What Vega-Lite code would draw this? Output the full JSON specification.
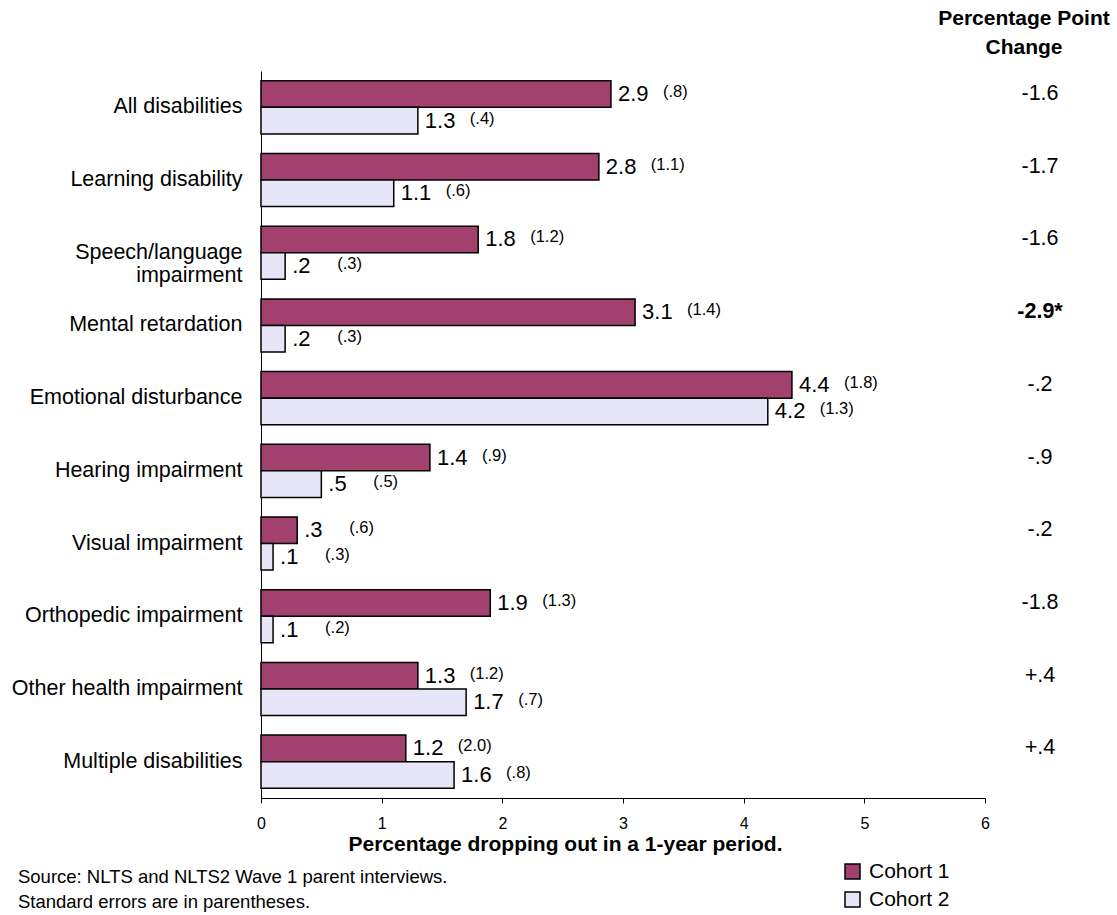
{
  "$schema": "https://vega.github.io/schema/vega-lite/v6.json",
  "autosize": {"type": "none"},
  "padding": {"left": 261, "top": 71, "right": 132, "bottom": 117},
  "width": 724,
  "height": 727,
  "datasets": {
    "bars": [
      {"category": "All disabilities", "cohort": "Cohort 1", "value": 2.9, "label": "2.9", "se": "(.8)"},
      {"category": "All disabilities", "cohort": "Cohort 2", "value": 1.3, "label": "1.3", "se": "(.4)"},
      {"category": "Learning disability", "cohort": "Cohort 1", "value": 2.8, "label": "2.8", "se": "(1.1)"},
      {"category": "Learning disability", "cohort": "Cohort 2", "value": 1.1, "label": "1.1", "se": "(.6)"},
      {"category": "Speech/language impairment", "cohort": "Cohort 1", "value": 1.8, "label": "1.8", "se": "(1.2)"},
      {"category": "Speech/language impairment", "cohort": "Cohort 2", "value": 0.2, "label": ".2", "se": "(.3)"},
      {"category": "Mental retardation", "cohort": "Cohort 1", "value": 3.1, "label": "3.1", "se": "(1.4)"},
      {"category": "Mental retardation", "cohort": "Cohort 2", "value": 0.2, "label": ".2", "se": "(.3)"},
      {"category": "Emotional disturbance", "cohort": "Cohort 1", "value": 4.4, "label": "4.4", "se": "(1.8)"},
      {"category": "Emotional disturbance", "cohort": "Cohort 2", "value": 4.2, "label": "4.2", "se": "(1.3)"},
      {"category": "Hearing impairment", "cohort": "Cohort 1", "value": 1.4, "label": "1.4", "se": "(.9)"},
      {"category": "Hearing impairment", "cohort": "Cohort 2", "value": 0.5, "label": ".5", "se": "(.5)"},
      {"category": "Visual impairment", "cohort": "Cohort 1", "value": 0.3, "label": ".3", "se": "(.6)"},
      {"category": "Visual impairment", "cohort": "Cohort 2", "value": 0.1, "label": ".1", "se": "(.3)"},
      {"category": "Orthopedic impairment", "cohort": "Cohort 1", "value": 1.9, "label": "1.9", "se": "(1.3)"},
      {"category": "Orthopedic impairment", "cohort": "Cohort 2", "value": 0.1, "label": ".1", "se": "(.2)"},
      {"category": "Other health impairment", "cohort": "Cohort 1", "value": 1.3, "label": "1.3", "se": "(1.2)"},
      {"category": "Other health impairment", "cohort": "Cohort 2", "value": 1.7, "label": "1.7", "se": "(.7)"},
      {"category": "Multiple disabilities", "cohort": "Cohort 1", "value": 1.2, "label": "1.2", "se": "(2.0)"},
      {"category": "Multiple disabilities", "cohort": "Cohort 2", "value": 1.6, "label": "1.6", "se": "(.8)"}
    ],
    "changes": [
      {"category": "All disabilities", "change": "-1.6", "significant": false},
      {"category": "Learning disability", "change": "-1.7", "significant": false},
      {"category": "Speech/language impairment", "change": "-1.6", "significant": false},
      {"category": "Mental retardation", "change": "-2.9*", "significant": true},
      {"category": "Emotional disturbance", "change": "-.2", "significant": false},
      {"category": "Hearing impairment", "change": "-.9", "significant": false},
      {"category": "Visual impairment", "change": "-.2", "significant": false},
      {"category": "Orthopedic impairment", "change": "-1.8", "significant": false},
      {"category": "Other health impairment", "change": "+.4", "significant": false},
      {"category": "Multiple disabilities", "change": "+.4", "significant": false}
    ],
    "notes": [
      {"lines": ["Source: NLTS and NLTS2 Wave 1 parent interviews.", "Standard errors are in parentheses."]}
    ]
  },
  "title": {
    "text": ["Percentage Point", "Change"],
    "anchor": "end",
    "frame": "group",
    "align": "center",
    "dx": 39,
    "fontSize": 21,
    "fontWeight": "bold",
    "lineHeight": 29,
    "offset": 13,
    "color": "#000"
  },
  "layer": [
    {
      "data": {"name": "bars"},
      "mark": {"type": "bar", "stroke": "#000", "strokeWidth": 1.5},
      "encoding": {
        "x": {
          "field": "value", "type": "quantitative",
          "scale": {"domain": [0, 6], "nice": false, "zero": true},
          "axis": {
            "title": "Percentage dropping out in a 1-year period.",
            "values": [0, 1, 2, 3, 4, 5, 6],
            "format": "d"
          }
        },
        "y": {
          "field": "category", "type": "nominal",
          "sort": ["All disabilities", "Learning disability", "Speech/language impairment", "Mental retardation", "Emotional disturbance", "Hearing impairment", "Visual impairment", "Orthopedic impairment", "Other health impairment", "Multiple disabilities"],
          "scale": {"paddingInner": 0.27, "paddingOuter": 0.135},
          "axis": {
            "title": null,
            "labelExpr": "datum.label == 'Speech/language impairment' ? ['Speech/language', 'impairment\u2007\u2007\u2007'] : datum.label"
          }
        },
        "yOffset": {"field": "cohort", "type": "nominal", "scale": {"domain": ["Cohort 1", "Cohort 2"], "paddingInner": 0, "paddingOuter": 0}},
        "fill": {
          "field": "cohort", "type": "nominal",
          "scale": {"domain": ["Cohort 1", "Cohort 2"], "range": ["#A2406E", "#E6E6F8"]},
          "legend": {
            "title": null,
            "orient": "none",
            "legendX": 581,
            "legendY": 790,
            "symbolType": "square",
            "symbolSize": 225,
            "symbolStrokeColor": "#000",
            "symbolStrokeWidth": 1.5,
            "labelFontSize": 21,
            "labelColor": "#000",
            "labelOffset": 6,
            "rowPadding": 6,
            "padding": 0
          }
        }
      }
    },
    {
      "data": {"name": "bars"},
      "mark": {"type": "text", "align": "left", "baseline": "middle", "dx": 7, "fontSize": 22, "color": "#000"},
      "encoding": {
        "x": {"field": "value", "type": "quantitative"},
        "y": {"field": "category", "type": "nominal", "sort": ["All disabilities", "Learning disability", "Speech/language impairment", "Mental retardation", "Emotional disturbance", "Hearing impairment", "Visual impairment", "Orthopedic impairment", "Other health impairment", "Multiple disabilities"]},
        "yOffset": {"field": "cohort", "type": "nominal"},
        "text": {"field": "label", "type": "nominal"}
      }
    },
    {
      "data": {"name": "bars"},
      "mark": {"type": "text", "align": "left", "baseline": "middle", "dx": 52, "dy": -2, "fontSize": 16.5, "color": "#000"},
      "encoding": {
        "x": {"field": "value", "type": "quantitative"},
        "y": {"field": "category", "type": "nominal", "sort": ["All disabilities", "Learning disability", "Speech/language impairment", "Mental retardation", "Emotional disturbance", "Hearing impairment", "Visual impairment", "Orthopedic impairment", "Other health impairment", "Multiple disabilities"]},
        "yOffset": {"field": "cohort", "type": "nominal"},
        "text": {"field": "se", "type": "nominal"}
      }
    },
    {
      "data": {"name": "changes"},
      "transform": [{"filter": "!datum.significant"}],
      "mark": {"type": "text", "align": "center", "baseline": "middle", "fontSize": 21.5, "color": "#000"},
      "encoding": {
        "x": {"datum": 6.456, "type": "quantitative"},
        "y": {"field": "category", "type": "nominal", "sort": ["All disabilities", "Learning disability", "Speech/language impairment", "Mental retardation", "Emotional disturbance", "Hearing impairment", "Visual impairment", "Orthopedic impairment", "Other health impairment", "Multiple disabilities"]},
        "yOffset": {"datum": "Cohort 1"},
        "text": {"field": "change", "type": "nominal"}
      }
    },
    {
      "data": {"name": "changes"},
      "transform": [{"filter": "datum.significant"}],
      "mark": {"type": "text", "align": "center", "baseline": "middle", "fontSize": 21.5, "fontWeight": "bold", "color": "#000"},
      "encoding": {
        "x": {"datum": 6.456, "type": "quantitative"},
        "y": {"field": "category", "type": "nominal", "sort": ["All disabilities", "Learning disability", "Speech/language impairment", "Mental retardation", "Emotional disturbance", "Hearing impairment", "Visual impairment", "Orthopedic impairment", "Other health impairment", "Multiple disabilities"]},
        "yOffset": {"datum": "Cohort 1"},
        "text": {"field": "change", "type": "nominal"}
      }
    },
    {
      "data": {"name": "notes"},
      "mark": {"type": "text", "align": "left", "baseline": "alphabetic", "fontSize": 18.5, "lineHeight": 25, "color": "#000"},
      "encoding": {
        "x": {"datum": -2.014, "type": "quantitative"},
        "y": {"value": 812},
        "text": {"field": "lines"}
      }
    }
  ],
  "config": {
    "font": "Liberation Sans",
    "view": {"stroke": null},
    "axisX": {
      "grid": false,
      "domainColor": "#000",
      "tickColor": "#000",
      "tickSize": 5,
      "labelFontSize": 16,
      "labelColor": "#000",
      "labelPadding": 12,
      "labelFlush": false,
      "titleFontSize": 21,
      "titleFontWeight": "bold",
      "titleColor": "#000",
      "titleX": 304,
      "titleY": 52,
      "titleAlign": "center",
      "titleBaseline": "alphabetic"
    },
    "axisY": {
      "ticks": false,
      "grid": false,
      "domainColor": "#000",
      "labelFontSize": 21.5,
      "labelColor": "#000",
      "labelPadding": 19,
      "labelLineHeight": 23,
      "labelLimit": 300
    }
  }
}
